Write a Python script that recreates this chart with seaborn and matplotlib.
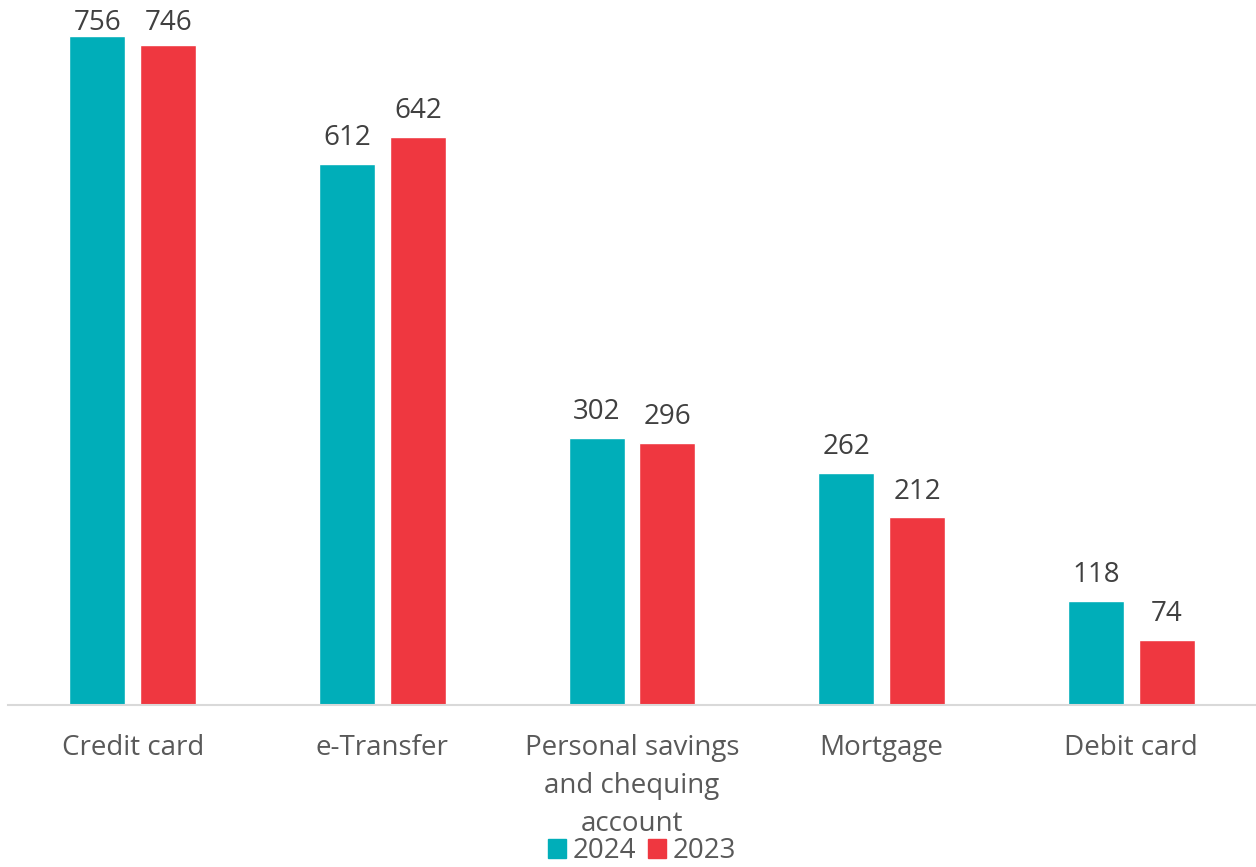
import pandas as pd
import matplotlib
matplotlib.use("Agg")
import matplotlib.pyplot as plt
import seaborn as sns

# Datos
categorias = ['Credit card', 'e-Transfer', 'Personal savings\nand chequing\naccount', 'Mortgage', 'Debit card']
valores_2024 = [756, 612, 302, 262, 118]
valores_2023 = [746, 642, 296, 212, 74]
anios = ['2024', '2023']
colores = {'2024': '#00AEB9', '2023': '#EF3740'}

df = pd.DataFrame({
    'Categoria': categorias * 2,
    'Valor': valores_2024 + valores_2023,
    'Anio': ['2024'] * len(categorias) + ['2023'] * len(categorias),
})

sns.set_style('white')
plt.rcParams['font.family'] = ['Open Sans', 'DejaVu Sans']

fig = plt.figure(figsize=(12.56, 8.67), dpi=100)
ax = fig.add_axes([8 / 1256, 162 / 867, 1 - 8 / 1256, 705 / 867])

sns.barplot(data=df, x='Categoria', y='Valor', hue='Anio', hue_order=anios,
            palette=colores, width=0.568, gap=0.21, saturation=1,
            legend=False, ax=ax)

# Etiquetas de valor (las que no caben arriba se bajan, como en Excel)
tope = 742
for cont in ax.containers:
    etiquetas = ax.bar_label(cont, fmt='%d', padding=8.5, fontsize=20, color='#404040')
    for et in etiquetas:
        x, y = et.xy
        et.xy = (x, min(y, tope))

ax.set_ylim(0, 797)
ax.set_xlim(-0.5, 4.5)
ax.set_xlabel('')
ax.set_ylabel('')
ax.set_yticks([])
for s in ['top', 'right', 'left']:
    ax.spines[s].set_visible(False)
ax.spines['bottom'].set_color('#D9D9D9')
ax.spines['bottom'].set_linewidth(1.5)
ax.tick_params(axis='x', length=0, pad=21, labelsize=20, labelcolor='#595959')
for t in ax.get_xticklabels():
    t.set_linespacing(1.48)

handles = [plt.Rectangle((0, 0), 1, 1, color=colores[a]) for a in anios]
fig.legend(handles, anios, loc='center', bbox_to_anchor=(642 / 1256, 16 / 867),
           ncol=2, frameon=False, fontsize=20, handlelength=0.65, handleheight=0.65,
           handletextpad=0.25, columnspacing=0.4, labelcolor='#595959',
           borderaxespad=0, borderpad=0)

fig.savefig('out.png', dpi=100)
plt.close(fig)
